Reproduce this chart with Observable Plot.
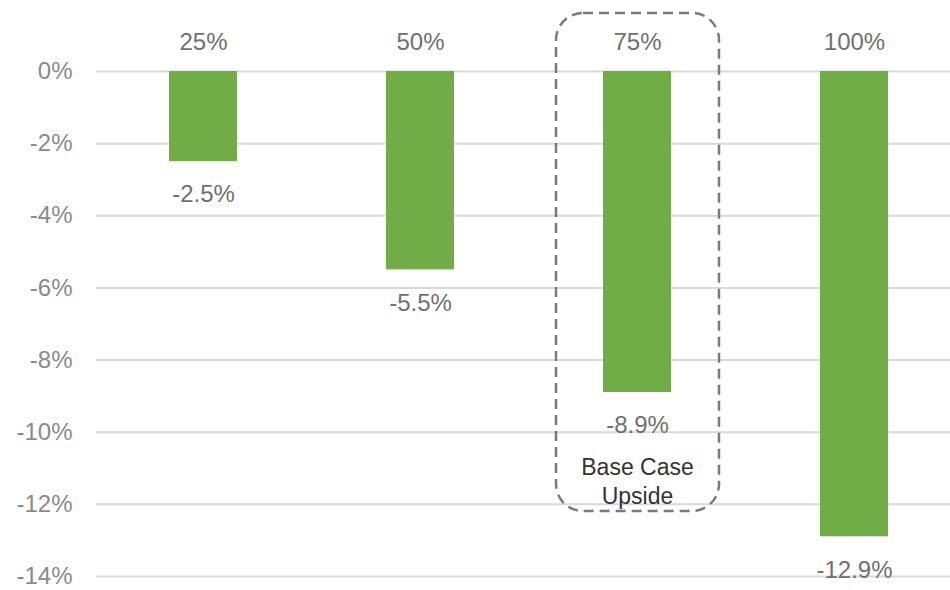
<!DOCTYPE html>
<html>
<head>
<meta charset="utf-8">
<script src="https://cdn.jsdelivr.net/npm/d3@7"></script>
<script src="https://cdn.jsdelivr.net/npm/@observablehq/plot@0.6"></script>
<style>
  html, body { margin: 0; padding: 0; background: #fff; }
  #chart svg { display: block; }
</style>
</head>
<body>
<div id="chart"></div>
<script>
// Scenario shares and the resulting change
const scenarios = ["25%", "50%", "75%", "100%"];
const impacts = [-2.5, -5.5, -8.9, -12.9];
const yTicks = [0, -2, -4, -6, -8, -10, -12, -14];
const highlighted = "75%";
const highlightNote = "Base Case\nUpside";

const rows = scenarios.map((s, i) => ({scenario: s, value: impacts[i]}));
const pct = d => `${d}%`;

const chart = Plot.plot({
  width: 950,
  height: 590,
  marginTop: 71,
  marginBottom: 14,
  marginLeft: 96,
  marginRight: 0,
  style: {fontFamily: "'Liberation Sans', Arial, sans-serif", fontSize: "24px", color: "#777"},
  x: {domain: scenarios, range: [96, 961], paddingInner: 0.687, paddingOuter: 0.336, axis: null},
  y: {domain: [-14, 0], label: null},
  marks: [
    Plot.ruleY(yTicks, {stroke: "#d9d9d9", strokeWidth: 2}),
    Plot.axisY(yTicks, {tickSize: 0, tickPadding: 24, tickFormat: pct, fill: "#8a8a8a", fontSize: 24, label: null}),
    Plot.barY(rows, {x: "scenario", y: "value", fill: "#70ad47"}),
    // highlighted scenario frame
    Plot.barY([highlighted], {
      x: d => d, y1: 1.61, y2: -12.2,
      fill: "none", stroke: "#7a7a7a", strokeWidth: 2.5, strokeDasharray: "10,6",
      rx: 27, insetLeft: -47, insetRight: -48
    }),
    Plot.text(rows, {x: "scenario", y: 0, text: "scenario", dy: -29, fill: "#707070", fontSize: 24}),
    Plot.text(rows, {x: "scenario", y: "value", text: d => pct(d.value), dy: 33, fill: "#707070", fontSize: 24}),
    Plot.text([highlighted], {
      x: d => d, y: impacts[scenarios.indexOf(highlighted)], text: () => highlightNote,
      dy: 88, lineHeight: 1.25, fill: "#333", fontSize: 23
    })
  ]
});

document.getElementById("chart").append(chart);
</script>
</body>
</html>
